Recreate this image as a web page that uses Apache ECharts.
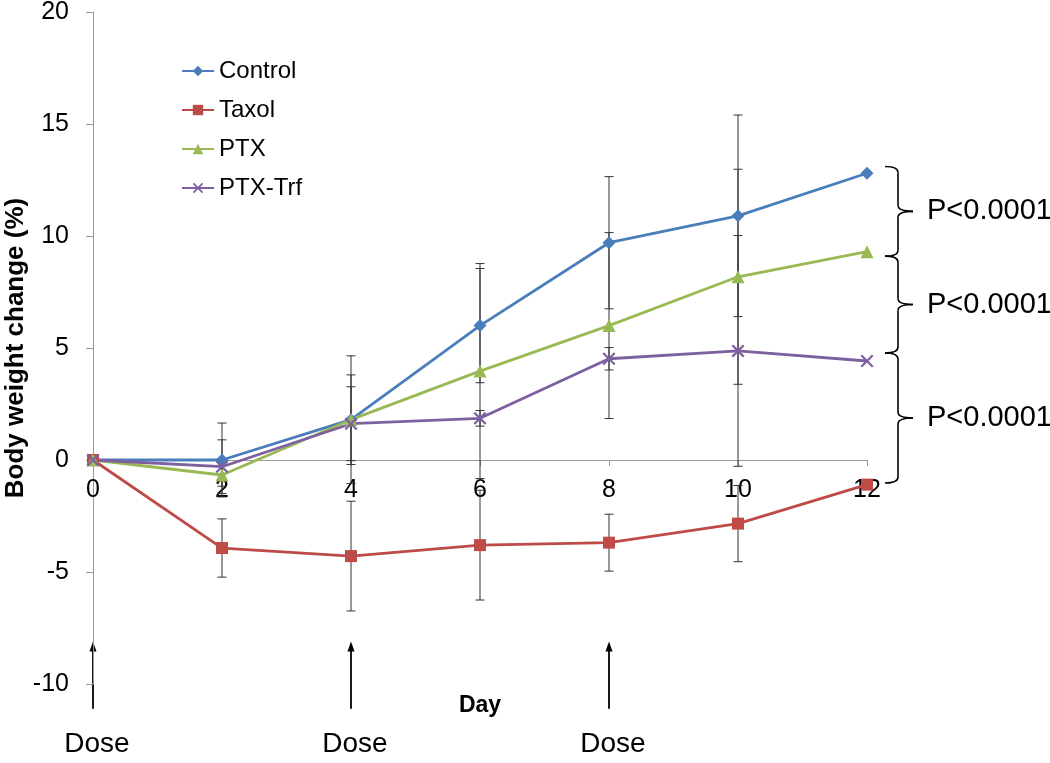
<!DOCTYPE html>
<html><head><meta charset="utf-8">
<script src="https://cdn.jsdelivr.net/npm/echarts@6/dist/echarts.min.js"></script>
<style>html,body{margin:0;padding:0;background:#fff}#c{width:1050px;height:763px}</style>
</head><body><div id="c"></div>
<script>
const days = [0, 2, 4, 6, 8, 10, 12];
const yTicks = [-10, -5, 0, 5, 10, 15, 20];
const control = [0, 0, 1.8, 6.0, 9.7, 10.9, 12.8];
const controlErr = [0, 1.65, 2.85, 2.55, 2.95, 4.5, 0];
const taxol = [0, -3.93, -4.29, -3.8, -3.69, -2.84, -1.1];
const taxolErr = [0, 1.3, 2.45, 2.45, 1.27, 1.7, 0];
const ptx = [0, -0.67, 1.8, 3.97, 6.0, 8.18, 9.3];
const ptxErr = [0, 0.5, 2.0, 4.8, 4.15, 4.8, 0];
const ptxTrf = [0, -0.3, 1.62, 1.86, 4.52, 4.87, 4.42];
const ptxTrfErr = [0, 1.2, 1.65, 0.35, 0.5, 5.15, 0];
const doseDays = [0, 4, 8];
const doseLabel = 'Dose';
const pBrackets = [[13.1, 9.1], [9.1, 4.78], [4.78, -1.03]];
const pLabel = 'P<0.0001';

const FONT = "'Liberation Sans', Arial, sans-serif";
const xMark = 'path://M0,1.2L1.2,0L5,3.8L8.8,0L10,1.2L6.2,5L10,8.8L8.8,10L5,6.2L1.2,10L0,8.8L3.8,5Z';

const seriesDefs = [
  {name: 'Control', vals: control, err: controlErr, color: '#4A7EBB', symbol: 'diamond', size: 13},
  {name: 'Taxol', vals: taxol, err: taxolErr, color: '#BE4B48', symbol: 'rect', size: 12},
  {name: 'PTX', vals: ptx, err: ptxErr, color: '#98B954', symbol: 'triangle', size: 13},
  {name: 'PTX-Trf', vals: ptxTrf, err: ptxTrfErr, color: '#7D60A0', symbol: xMark, size: 13}
];

const GRID = {left: 93, right: 183, top: 12, bottom: 79};
const chartH = 763;
const yMin = yTicks[0], yMax = yTicks[yTicks.length - 1];
// shift the x axis up so it sits on y = 0 (labels follow it)
const xAxisOffset = -(chartH - GRID.top - GRID.bottom) * (0 - yMin) / (yMax - yMin);

const chart = echarts.init(document.getElementById('c'));

const errSeries = seriesDefs.map(s => ({
  type: 'custom',
  name: s.name + ' err',
  z: 1,
  clip: false,
  silent: true,
  data: days.map((d, i) => [d, s.vals[i], s.err[i]]),
  encode: {x: 0, y: 1},
  renderItem: function (params, api) {
    const x = api.value(0), c = api.value(1), e = api.value(2);
    if (!e) return null;
    const t = api.coord([x, c + e]);
    const b = api.coord([x, c - e]);
    const st = {stroke: '#333', lineWidth: 1};
    const w = 4.5;
    return {type: 'group', children: [
      {type: 'line', shape: {x1: t[0], y1: t[1], x2: b[0], y2: b[1]}, style: st},
      {type: 'line', shape: {x1: t[0] - w, y1: t[1], x2: t[0] + w, y2: t[1]}, style: st},
      {type: 'line', shape: {x1: b[0] - w, y1: b[1], x2: b[0] + w, y2: b[1]}, style: st}
    ]};
  }
}));

const lineSeries = seriesDefs.map(s => ({
  type: 'line',
  name: s.name,
  z: 3,
  data: days.map((d, i) => [d, s.vals[i]]),
  symbol: s.symbol,
  symbolSize: s.size,
  showAllSymbol: true,
  lineStyle: {color: s.color, width: 2.8},
  itemStyle: {color: s.color},
  emphasis: {disabled: true}
}));

chart.setOption({
  animation: false,
  backgroundColor: '#fff',
  textStyle: {fontFamily: FONT},
  grid: Object.assign({containLabel: false, outerBoundsMode: 'none'}, GRID),
  legend: {
    data: seriesDefs.map(s => s.name),
    orient: 'vertical',
    left: 176, top: 54,
    itemWidth: 32, itemHeight: 13, itemGap: 15,
    textStyle: {fontSize: 24, color: '#000', fontFamily: FONT}
  },
  xAxis: {
    type: 'value', min: 0, max: 12, interval: 2,
    position: 'bottom', offset: xAxisOffset,
    name: 'Day', nameLocation: 'middle', nameGap: 234, nameMoveOverlap: false,
    nameTextStyle: {fontSize: 23, fontWeight: 'bold', color: '#000', fontFamily: FONT},
    axisLine: {onZero: false, lineStyle: {color: '#999', width: 1}},
    axisTick: {show: true, length: 6, lineStyle: {color: '#999'}},
    axisLabel: {fontSize: 25, color: '#000', margin: 18, fontFamily: FONT},
    splitLine: {show: false}
  },
  yAxis: {
    type: 'value', min: yMin, max: yMax, interval: 5,
    name: 'Body weight change (%)', nameLocation: 'middle', nameGap: 64, nameMoveOverlap: false,
    nameTextStyle: {fontSize: 26, fontWeight: 'bold', color: '#000', fontFamily: FONT},
    axisLine: {show: true, lineStyle: {color: '#999', width: 1}},
    axisTick: {show: true, length: 7, lineStyle: {color: '#999'}},
    axisLabel: {fontSize: 25, color: '#000', margin: 24, fontFamily: FONT},
    splitLine: {show: false}
  },
  series: [...errSeries, ...lineSeries]
});

// annotations computed via the axes
function px(x, y) { return chart.convertToPixel({gridIndex: 0}, [x, y]); }
const graphics = [];
const x12 = px(days[days.length - 1], 0)[0];
const bst = {stroke: '#000', lineWidth: 1.6, fill: null};
pBrackets.forEach(([hi, lo]) => {
  const yT = px(12, hi)[1], yB = px(12, lo)[1];
  const ym = (yT + yB) / 2;
  const x0 = x12 + 18, xv = x12 + 31, xt = x12 + 46, r = 6;
  graphics.push({type: 'bezierCurve', shape: {x1: x0, y1: yT, cpx1: xv, cpy1: yT, x2: xv, y2: yT + r}, style: bst});
  graphics.push({type: 'line', shape: {x1: xv, y1: yT + r, x2: xv, y2: ym - r}, style: bst});
  graphics.push({type: 'bezierCurve', shape: {x1: xv, y1: ym - r, cpx1: xv, cpy1: ym, x2: xt, y2: ym}, style: bst});
  graphics.push({type: 'bezierCurve', shape: {x1: xt, y1: ym, cpx1: xv, cpy1: ym, x2: xv, y2: ym + r}, style: bst});
  graphics.push({type: 'line', shape: {x1: xv, y1: ym + r, x2: xv, y2: yB - r}, style: bst});
  graphics.push({type: 'bezierCurve', shape: {x1: xv, y1: yB - r, cpx1: xv, cpy1: yB, x2: x0, y2: yB}, style: bst});
  graphics.push({type: 'text', x: x12 + 60, y: ym, style: {text: pLabel, font: `29px ${FONT}`, fill: '#000', verticalAlign: 'middle'}});
});
doseDays.forEach(d => {
  const p1 = px(d, -11.1), p2 = px(d, -8.1), pt = px(d, -12.7);
  graphics.push({type: 'line', shape: {x1: p1[0], y1: p1[1], x2: p2[0], y2: p2[1] + 8}, style: {stroke: '#000', lineWidth: 1.8}});
  graphics.push({type: 'polygon', shape: {points: [[p2[0], p2[1]], [p2[0] - 3.5, p2[1] + 10], [p2[0] + 3.5, p2[1] + 10]]}, style: {fill: '#000'}});
  graphics.push({type: 'text', x: pt[0] + 4, y: pt[1], style: {text: doseLabel, font: `28px ${FONT}`, fill: '#000', align: 'center', verticalAlign: 'middle'}});
});
chart.setOption({graphic: graphics});
</script>
</body></html>
